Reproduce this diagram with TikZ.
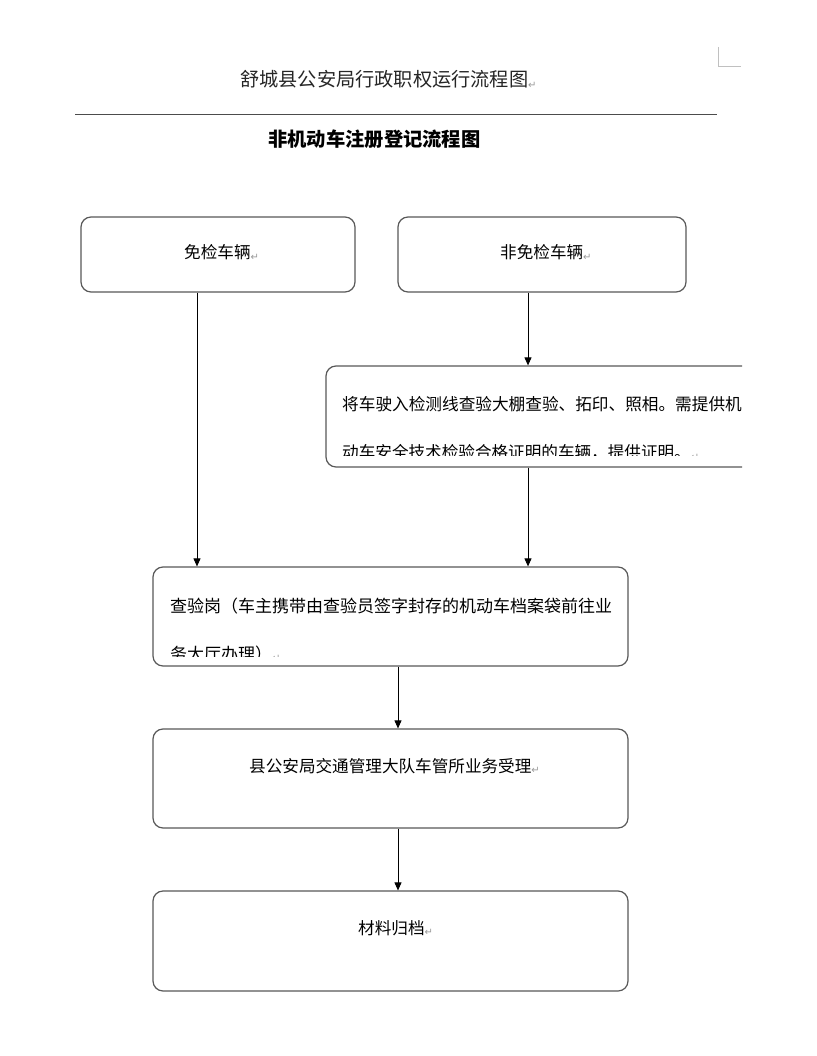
\documentclass[tikz,border=0pt]{standalone}
\usepackage{fontspec}
\newfontfamily\cjk{Noto Sans CJK SC}
\newfontfamily\dvsans{DejaVu Sans}
\usetikzlibrary{arrows.meta}
\definecolor{boxgray}{HTML}{595959}
\definecolor{markgray}{HTML}{9A9A9A}
\definecolor{cornergray}{HTML}{C0C0C0}
\newcommand{\parmark}{{\dvsans\fontsize{10}{10}\selectfont\color{markgray}\raisebox{-1.5pt}{↵}}}
\newcommand{\fwch}[1]{\makebox[1em][c]{#1}}
\begin{document}
\begin{tikzpicture}[x=1pt,y=-1pt,
  box/.style={draw=boxgray, line width=1.2pt, rounded corners=10pt, inner sep=0pt},
  txt/.style={inner sep=0pt, font=\cjk\fontsize{16.6}{16.6}\selectfont},
  arr/.style={draw=black, line width=0.9pt, -{Triangle[length=8pt,width=7pt]}}]
\useasboundingbox (0,0) rectangle (816,1056);
\fill[white] (0,0) rectangle (816,1056);
% corner mark
\coordinate (cm1) at (718,47);
\coordinate (cm2) at (718,67);
\coordinate (cm3) at (741,67);
\draw[cornergray, line width=1pt] (cm1) -- (cm2) -- (cm3);
% header
\node[inner sep=0pt, anchor=base west, font=\cjk\fontsize{19.2}{19.2}\selectfont\color{black!85}] (title) at (240,87) {舒城县公安局行政职权运行流程图\parmark};
\coordinate (r1) at (75,115);
\coordinate (r2) at (717,115);
\draw[black!70, line width=1pt] (r1) -- (r2);
\node[inner sep=0pt, anchor=base west, font=\cjk\fontsize{19.3}{19.3}\selectfont\bfseries] (subtitle) at (268,147) {非机动车注册登记流程图};
% boxes
\node[box, minimum width=274pt, minimum height=75pt] (box1) at (218,254.5) {};
\node[txt, anchor=base west] (t1) at (184,259) {免检车辆\parmark};
\node[box, minimum width=288pt, minimum height=75pt] (box2) at (542,254.5) {};
\node[txt, anchor=base west] (t2) at (500,259) {非免检车辆\parmark};
\begin{scope}
  \clip (0,0) rectangle (742,1056);
  \node[box, minimum width=474pt, minimum height=101pt] (box3) at (563,416.5) {};
  \node[txt, anchor=base west, font=\cjk\fontsize{16.65}{16.65}\selectfont] (t3a) at (342,410) {将车驶入检测线查验大棚查验、拓印、照相。需提供机};
  \begin{scope}
    \clip (0,0) rectangle (742,455.5);
    \node[txt, anchor=base west] (t3b) at (342,458.5) {动车安全技术检验合格证明的车辆，提供证明。\parmark};
  \end{scope}
\end{scope}
\node[box, minimum width=475pt, minimum height=99pt] (box4) at (390.5,616.5) {};
\node[txt, anchor=base west, font=\cjk\fontsize{17}{17}\selectfont] (t4a) at (170,612) {查验岗\fwch{（}车主携带由查验员签字封存的机动车档案袋前往业};
\begin{scope}
  \clip (0,0) rectangle (816,656.5);
  \node[txt, anchor=base west, font=\cjk\fontsize{17}{17}\selectfont] (t4b) at (170,660) {务大厅办理\fwch{）}\parmark};
\end{scope}
\node[box, minimum width=475pt, minimum height=99pt] (box5) at (390.5,778.5) {};
\node[txt, anchor=base west] (t5) at (249,772) {县公安局交通管理大队车管所业务受理\parmark};
\node[box, minimum width=475pt, minimum height=100pt] (box6) at (390.5,941) {};
\node[txt, anchor=base west] (t6) at (358,934) {材料归档\parmark};
% arrows
\coordinate (a1) at (197,0);
\coordinate (a2) at (528,0);
\coordinate (a3) at (398,0);
\draw[arr] (box1.south -| a1) -- (box4.north -| a1);
\draw[arr] (box2.south -| a2) -- (box3.north -| a2);
\draw[arr] (box3.south -| a2) -- (box4.north -| a2);
\draw[arr] (box4.south -| a3) -- (box5.north -| a3);
\draw[arr] (box5.south -| a3) -- (box6.north -| a3);
\end{tikzpicture}
\end{document}
